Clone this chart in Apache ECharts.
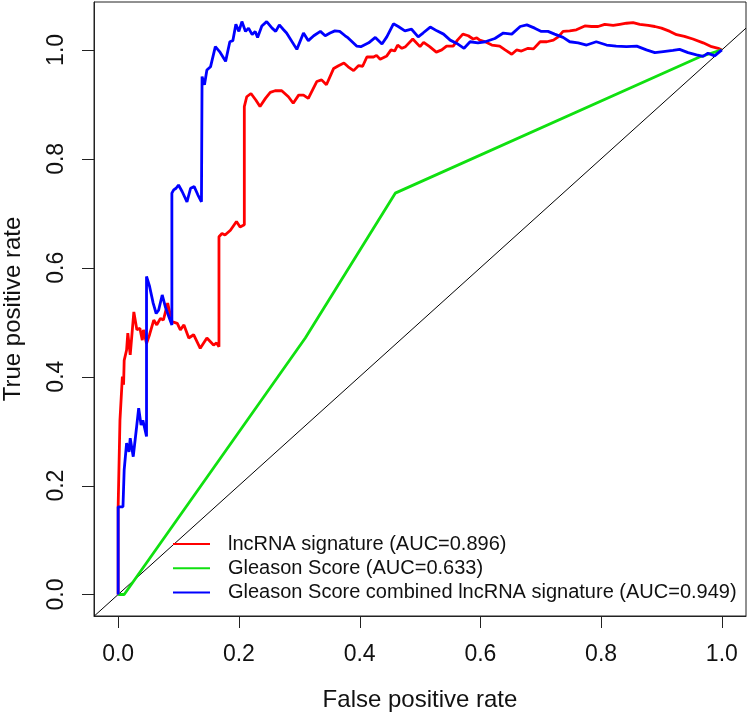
<!DOCTYPE html>
<html>
<head>
<meta charset="utf-8">
<script src="https://cdn.jsdelivr.net/npm/echarts@6/dist/echarts.min.js"></script>
<style>
  html, body { margin: 0; padding: 0; background: #fff; }
  #chart { width: 747px; height: 713px; }
</style>
</head>
<body>
<div id="chart"></div>
<script>
// ROC curves, values (false positive rate, true positive rate)
const seriesNames = [
  'lncRNA signature (AUC=0.896)',
  'Gleason Score (AUC=0.633)',
  'Gleason Score combined lncRNA signature (AUC=0.949)'
];

const lncFpr = [0, 0, 0.003, 0.003, 0.006, 0.007, 0.009, 0.010, 0.014, 0.016, 0.020, 0.026, 0.031, 0.036, 0.040, 0.042, 0.047, 0.052, 0.059, 0.064, 0.070, 0.075, 0.082, 0.089, 0.098, 0.103, 0.109, 0.117, 0.125, 0.136, 0.147, 0.158, 0.163, 0.167, 0.167, 0.172, 0.177, 0.186, 0.196, 0.202, 0.209, 0.209, 0.213, 0.220, 0.228, 0.235, 0.244, 0.252, 0.260, 0.271, 0.282, 0.290, 0.299, 0.307, 0.315, 0.329, 0.337, 0.345, 0.357, 0.365, 0.374, 0.381, 0.390, 0.398, 0.405, 0.412, 0.423, 0.428, 0.434, 0.445, 0.452, 0.458, 0.463, 0.470, 0.476, 0.488, 0.500, 0.506, 0.516, 0.527, 0.536, 0.544, 0.555, 0.562, 0.571, 0.580, 0.588, 0.594, 0.599, 0.608, 0.619, 0.632, 0.641, 0.652, 0.660, 0.668, 0.679, 0.688, 0.699, 0.710, 0.721, 0.729, 0.737, 0.748, 0.759, 0.773, 0.784, 0.795, 0.806, 0.820, 0.831, 0.842, 0.853, 0.864, 0.878, 0.889, 0.900, 0.914, 0.925, 0.938, 0.952, 0.969, 0.983, 0.994, 1];
const lncTpr = [0, 0.161, 0.161, 0.320, 0.320, 0.400, 0.385, 0.430, 0.449, 0.480, 0.440, 0.519, 0.486, 0.489, 0.467, 0.486, 0.461, 0.477, 0.504, 0.495, 0.507, 0.504, 0.535, 0.501, 0.498, 0.486, 0.495, 0.471, 0.477, 0.452, 0.471, 0.458, 0.462, 0.455, 0.657, 0.663, 0.660, 0.669, 0.685, 0.675, 0.679, 0.896, 0.914, 0.920, 0.908, 0.896, 0.911, 0.922, 0.925, 0.925, 0.914, 0.902, 0.917, 0.917, 0.911, 0.942, 0.945, 0.936, 0.966, 0.971, 0.976, 0.969, 0.962, 0.971, 0.970, 0.987, 0.987, 0.990, 0.983, 0.989, 1.000, 0.998, 1.009, 1.003, 1.006, 1.020, 1.006, 1.014, 1.006, 0.996, 1.000, 1.007, 1.007, 1.018, 1.029, 1.026, 1.020, 1.022, 1.018, 1.015, 1.009, 1.007, 1.000, 0.992, 1.000, 0.998, 1.003, 1.002, 1.015, 1.015, 1.018, 1.024, 1.034, 1.035, 1.037, 1.044, 1.043, 1.043, 1.047, 1.045, 1.047, 1.049, 1.050, 1.047, 1.045, 1.043, 1.040, 1.034, 1.028, 1.025, 1.020, 1.013, 1.006, 1.003, 1];

const gleasonFpr = [0, 0.010, 0.310, 0.459, 0.963, 1];
const gleasonTpr = [0, 0, 0.471, 0.737, 0.987, 1];

const combFpr = [0, 0, 0.008, 0.010, 0.014, 0.018, 0.020, 0.025, 0.030, 0.034, 0.038, 0.041, 0.047, 0.047, 0.052, 0.058, 0.063, 0.067, 0.073, 0.078, 0.084, 0.089, 0.089, 0.092, 0.096, 0.100, 0.106, 0.114, 0.120, 0.126, 0.132, 0.138, 0.139, 0.143, 0.147, 0.153, 0.161, 0.168, 0.178, 0.185, 0.190, 0.195, 0.200, 0.205, 0.211, 0.216, 0.222, 0.227, 0.231, 0.238, 0.246, 0.255, 0.261, 0.267, 0.274, 0.279, 0.296, 0.307, 0.315, 0.324, 0.335, 0.343, 0.351, 0.359, 0.367, 0.376, 0.381, 0.395, 0.402, 0.415, 0.426, 0.437, 0.445, 0.456, 0.464, 0.475, 0.486, 0.497, 0.505, 0.517, 0.528, 0.539, 0.550, 0.561, 0.573, 0.583, 0.596, 0.608, 0.624, 0.638, 0.652, 0.666, 0.677, 0.690, 0.701, 0.712, 0.723, 0.737, 0.748, 0.762, 0.776, 0.792, 0.809, 0.825, 0.842, 0.859, 0.875, 0.889, 0.903, 0.919, 0.930, 0.944, 0.958, 0.969, 0.977, 0.988, 1];
const combTpr = [0, 0.161, 0.161, 0.229, 0.278, 0.262, 0.287, 0.253, 0.302, 0.342, 0.311, 0.320, 0.290, 0.584, 0.566, 0.535, 0.516, 0.522, 0.550, 0.529, 0.510, 0.495, 0.737, 0.743, 0.746, 0.752, 0.740, 0.721, 0.746, 0.749, 0.734, 0.721, 0.951, 0.936, 0.963, 0.969, 1.006, 0.997, 0.979, 1.015, 1.017, 1.047, 1.034, 1.052, 1.034, 1.040, 1.028, 1.034, 1.023, 1.044, 1.052, 1.040, 1.034, 1.046, 1.037, 1.031, 1.001, 1.031, 1.017, 1.026, 1.034, 1.026, 1.031, 1.035, 1.034, 1.026, 1.022, 1.007, 1.006, 1.013, 1.023, 1.011, 1.024, 1.048, 1.043, 1.035, 1.038, 1.024, 1.031, 1.042, 1.035, 1.029, 1.018, 1.012, 1.003, 1.015, 1.013, 1.015, 1.021, 1.031, 1.029, 1.043, 1.046, 1.040, 1.034, 1.034, 1.029, 1.023, 1.015, 1.013, 1.009, 1.015, 1.009, 1.007, 1.006, 1.007, 1.000, 0.995, 0.997, 0.999, 1.001, 0.995, 0.991, 0.988, 0.994, 0.989, 1];

// reference diagonal (abline 0,1) across the whole plot region
const diagX = [-0.04, 1.04];
const diagY = [-0.04, 1.04];

const xTicks = [0, 0.2, 0.4, 0.6, 0.8, 1.0];
const yTicks = [0, 0.2, 0.4, 0.6, 0.8, 1.0];

// plot region extent (R pads the data range by 4%)
const X_MIN = -0.04, X_MAX = 1.04;
const Y_MIN = -0.0395, Y_MAX = 1.088;

const FONT = '"Liberation Sans", Arial, sans-serif';
const TICK_LEN = 12;

function pairs(xs, ys) {
  return xs.map((x, i) => [x, ys[i]]);
}

function curve(name, xs, ys, color) {
  return {
    name: name,
    type: 'line',
    data: pairs(xs, ys),
    showSymbol: false,
    symbol: 'none',
    lineStyle: { color: color, width: 2.8 },
    itemStyle: { color: color },
    silent: true
  };
}

const chart = echarts.init(document.getElementById('chart'), null, { renderer: 'canvas' });

chart.setOption({
  animation: false,
  backgroundColor: '#fff',
  grid: {
    left: 94, right: 1, top: 2, bottom: 97,
    outerBoundsContain: 'axisLabel',
    show: true, borderColor: '#222', borderWidth: 1, backgroundColor: 'transparent'
  },
  xAxis: {
    type: 'value',
    position: 'bottom',
    min: X_MIN, max: X_MAX,
    name: 'False positive rate',
    nameLocation: 'middle',
    nameGap: 72,
    nameTextStyle: { fontFamily: FONT, fontSize: 24, color: '#111' },
    axisLine: { show: true, onZero: false, lineStyle: { color: '#222', width: 1 } },
    splitLine: { show: false },
    axisTick: { show: false },
    axisLabel: {
      customValues: xTicks,
      margin: 27,
      fontFamily: FONT, fontSize: 23, color: '#111',
      formatter: v => v.toFixed(1)
    }
  },
  yAxis: {
    type: 'value',
    position: 'left',
    min: Y_MIN, max: Y_MAX,
    name: 'True positive rate',
    nameLocation: 'middle',
    nameGap: 69,
    nameTextStyle: { fontFamily: FONT, fontSize: 24, color: '#111' },
    axisLine: { show: true, onZero: false, lineStyle: { color: '#222', width: 1 } },
    splitLine: { show: false },
    axisTick: { show: false },
    axisLabel: {
      customValues: yTicks,
      rotate: 90,
      margin: 26,
      fontFamily: FONT, fontSize: 23, color: '#111',
      formatter: v => v.toFixed(1)
    }
  },
  legend: {
    data: seriesNames,
    orient: 'vertical',
    left: 173, top: 534,
    padding: 0,
    itemGap: 4.2,
    itemWidth: 37, itemHeight: 2,
    icon: 'rect',
    textStyle: { fontFamily: FONT, fontSize: 20, color: '#111', lineHeight: 20, padding: [0, 0, 0, 13] }
  },
  series: [
    {
      name: 'diagonal',
      type: 'line',
      data: pairs(diagX, diagY),
      showSymbol: false,
      symbol: 'none',
      lineStyle: { color: '#000', width: 1 },
      silent: true
    },
    curve(seriesNames[0], lncFpr, lncTpr, '#ff0000'),
    curve(seriesNames[1], gleasonFpr, gleasonTpr, '#10e010'),
    curve(seriesNames[2], combFpr, combTpr, '#0000ff')
  ]
});

// outward tick marks, positioned through the chart's own axis scales
const tickLines = [];
xTicks.forEach(v => {
  const p = chart.convertToPixel({ gridIndex: 0 }, [v, Y_MIN]);
  const x = Math.round(p[0]) + 0.5, y = Math.round(p[1]);
  tickLines.push({
    type: 'line', z: 100, silent: true,
    shape: { x1: x, y1: y, x2: x, y2: y + TICK_LEN },
    style: { stroke: '#222', lineWidth: 1 }
  });
});
yTicks.forEach(v => {
  const p = chart.convertToPixel({ gridIndex: 0 }, [X_MIN, v]);
  const x = Math.round(p[0]), y = Math.round(p[1]) + 0.5;
  tickLines.push({
    type: 'line', z: 100, silent: true,
    shape: { x1: x, y1: y, x2: x - TICK_LEN, y2: y },
    style: { stroke: '#222', lineWidth: 1 }
  });
});
chart.setOption({ graphic: { elements: tickLines } });
</script>
</body>
</html>
